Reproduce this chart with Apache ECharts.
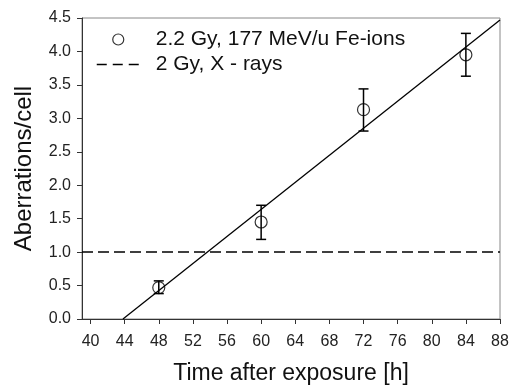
<!DOCTYPE html>
<html lang="en">
<head>
<meta charset="utf-8">
<title>Aberrations per cell</title>
<script src="https://cdn.jsdelivr.net/npm/echarts@6/dist/echarts.min.js"></script>
<style>
  html, body { margin: 0; padding: 0; background: #fff; }
  #main { width: 516px; height: 387px; }
</style>
</head>
<body>
<div id="main"></div>
<script>
// measured points (Fe-ions)
var hours = [48, 60, 72, 84];
var aberr = [0.47, 1.45, 3.13, 3.95];
var errLow = [0.38, 1.19, 2.81, 3.63];
var errHigh = [0.57, 1.70, 3.44, 4.27];
// linear fit
var fitX = [43.8, 88];
var fitY = [0, 4.47];
// X-ray reference level
var xrayX = [39, 88];
var xrayY = [1.0, 1.0];
var xTicks = [40, 44, 48, 52, 56, 60, 64, 68, 72, 76, 80, 84, 88];

var font = 'Liberation Sans, Arial, sans-serif';

function pairs(xs, ys) {
  return xs.map(function (x, i) { return [x, ys[i]]; });
}

var chart = echarts.init(document.getElementById('main'));
var option = {
  animation: false,
  textStyle: { fontFamily: font },
  grid: {
    left: 82, right: 16, top: 18, bottom: 68,
    outerBoundsMode: 'none',
    show: true, borderColor: '#888', borderWidth: 1
  },
  legend: {
    orient: 'vertical',
    left: 91, top: 24,
    itemWidth: 43, itemHeight: 11, itemGap: 4,
    textStyle: { fontSize: 21, color: '#111', fontFamily: font, padding: [0, 0, 0, 11] },
    data: [
      { name: '2.2 Gy, 177 MeV/u Fe-ions', icon: 'circle', itemStyle: { color: 'none', borderColor: '#000', borderWidth: 1.2 } },
      { name: '2 Gy, X - rays', itemStyle: { opacity: 0 }, lineStyle: { color: '#000', width: 1.5, type: [10, 6] } }
    ]
  },
  xAxis: {
    type: 'value', min: 39, max: 88,
    name: 'Time after exposure [h]', nameLocation: 'middle', nameGap: 43,
    nameTextStyle: { fontSize: 23, color: '#111' },
    axisLine: { lineStyle: { color: '#333' } },
    axisTick: { show: true, length: 5, customValues: xTicks, lineStyle: { color: '#333' } },
    axisLabel: { customValues: xTicks, margin: 15, fontSize: 16, color: '#222' },
    splitLine: { show: false }
  },
  yAxis: {
    type: 'value', min: 0, max: 4.5, interval: 0.5,
    name: 'Aberrations/cell', nameLocation: 'middle', nameGap: 46,
    nameTextStyle: { fontSize: 24, color: '#111' },
    axisLine: { show: true, lineStyle: { color: '#333' } },
    axisTick: { show: true, length: 5, lineStyle: { color: '#333' } },
    axisLabel: { margin: 11, fontSize: 16, color: '#222', formatter: function (v) { return v.toFixed(1); } },
    splitLine: { show: false }
  },
  series: [
    {
      name: '2.2 Gy, 177 MeV/u Fe-ions',
      type: 'scatter',
      symbol: 'circle',
      symbolSize: 12,
      itemStyle: { color: 'none', borderColor: '#000', borderWidth: 1.2 },
      data: pairs(hours, aberr),
      z: 4
    },
    {
      name: 'errors',
      type: 'custom',
      renderItem: function (params, api) {
        var x = api.value(0);
        var lo = api.coord([x, api.value(1)]);
        var hi = api.coord([x, api.value(2)]);
        var c = 5;
        var st = { stroke: '#000', lineWidth: 1.5 };
        return {
          type: 'group',
          children: [
            { type: 'line', shape: { x1: lo[0], y1: lo[1], x2: hi[0], y2: hi[1] }, style: st },
            { type: 'line', shape: { x1: lo[0] - c, y1: lo[1], x2: lo[0] + c, y2: lo[1] }, style: st },
            { type: 'line', shape: { x1: hi[0] - c, y1: hi[1], x2: hi[0] + c, y2: hi[1] }, style: st }
          ]
        };
      },
      data: hours.map(function (h, i) { return [h, errLow[i], errHigh[i]]; }),
      z: 3
    },
    {
      name: 'fit',
      type: 'line',
      data: pairs(fitX, fitY),
      symbol: 'none',
      lineStyle: { color: '#000', width: 1.3 },
      z: 2
    },
    {
      name: '2 Gy, X - rays',
      type: 'line',
      data: pairs(xrayX, xrayY),
      symbol: 'none',
      itemStyle: { color: '#000' },
      lineStyle: { color: '#000', width: 1.5, type: [11, 5] },
      z: 2
    }
  ]
};
chart.setOption(option);
</script>
</body>
</html>
